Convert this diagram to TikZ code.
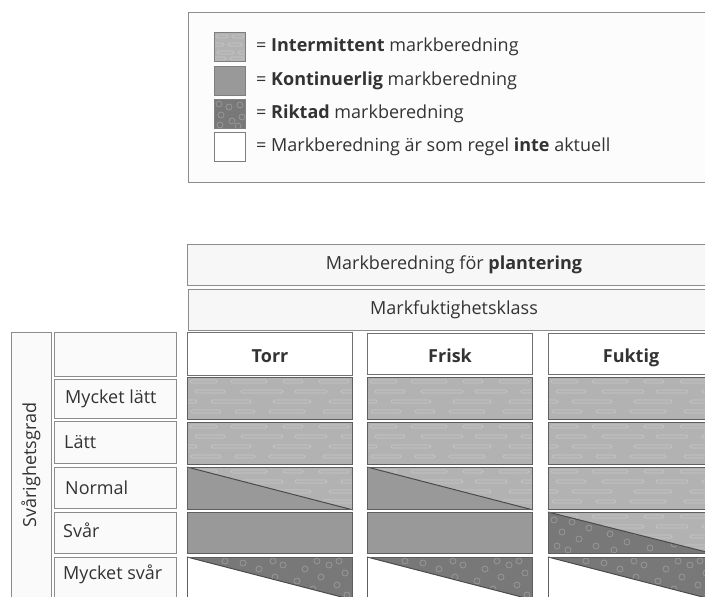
\documentclass[tikz,border=0pt]{standalone}
\usepackage{fontspec}
\setmainfont{Open Sans}
\pgfdeclarelayer{bg}
\pgfsetlayers{bg,main}
\definecolor{intc}{HTML}{B2B2B2}
\definecolor{intd}{HTML}{C6C6C6}
\definecolor{konc}{HTML}{999999}
\definecolor{rikc}{HTML}{787878}
\definecolor{rikd}{HTML}{9A9A9A}
\definecolor{celld}{HTML}{5E5E5E}
\definecolor{boxd}{HTML}{8C8C8C}
\definecolor{txt}{HTML}{333333}
\newcommand{\fs}{\fontsize{18}{20}\selectfont}
\tikzset{
  hdrbox/.style={draw=boxd, line width=1.1pt, fill=white!97!black, inner sep=0pt, anchor=north west, text=txt, font=\fs},
  colbox/.style={draw=boxd!80!black, line width=1.1pt, fill=white, inner sep=0pt, anchor=north west, text=txt, font=\bfseries\fs, text height=16pt, text depth=0pt},
  lblbox/.style={draw=boxd, line width=1.1pt, fill=white!98!black, inner sep=0pt, anchor=north west},
  lbltxt/.style={anchor=west, text=txt, font=\fs, inner sep=0pt},
  cellbox/.style={draw=celld, line width=0.9pt, inner sep=0pt, anchor=north west, minimum width=165pt},
  swatch/.style={draw=celld!80, line width=0.9pt, inner sep=0pt, minimum width=31pt, minimum height=29pt, anchor=north west},
  legtxt/.style={anchor=west, text=txt, font=\fs, inner sep=0pt},
  dashbar/.style={draw=intd, line width=0.7pt, rounded corners=1.4pt},
  ring/.style={draw=rikd, line width=0.7pt},
  diag/.style={draw=celld!80!black, line width=1pt}
}
% intermittent dashes, in a scope shifted to a cell's north west corner
\newcommand{\dashrows}{%
  \foreach \a/\b in {3/30,44/80,96/116,132/162,176/200} {\draw[dashbar] (\a,3) rectangle (\b,6);}
  \foreach \a/\b in {8/38,54/96,108/140,154/178} {\draw[dashbar] (\a,13) rectangle (\b,16);}
  \foreach \a/\b in {-5/10,24/64,86/124,142/172} {\draw[dashbar] (\a,23) rectangle (\b,26);}
  \foreach \a/\b in {4/34,48/68,82/118,136/170} {\draw[dashbar] (\a,33) rectangle (\b,36);}
}
\newcommand{\ringset}{%
  \foreach \p/\q in {6/8,14/20,9/34,24/10,31/27,41/16,48/34,56/6,62/22,72/12,79/30,88/20,96/8,102/36,110/24,118/12,126/32,134/20,142/8,150/28,158/16,160/38,20/38,66/38,86/4,130/4,38/4,152/4}
    {\draw[ring] (\p,\q) circle (3);}
}
\newcommand{\fillint}[1]{%
  \begin{scope}
    \clip (#1.north west) rectangle (#1.south east);
    \fill[intc] (#1.north west) rectangle (#1.south east);
    \begin{scope}[shift={(#1.north west)}]\dashrows\end{scope}
  \end{scope}}
\newcommand{\fillkon}[1]{\fill[konc] (#1.north west) rectangle (#1.south east);}
\newcommand{\fillnormal}[1]{%
  \fillint{#1}
  \fill[konc] (#1.north west) -- (#1.south west) -- (#1.south east) -- cycle;
  \draw[diag] (#1.north west) -- (#1.south east);}
\newcommand{\fillsvarfukt}[1]{%
  \fillint{#1}
  \begin{scope}
    \clip (#1.north west) -- (#1.south west) -- (#1.south east) -- cycle;
    \fill[rikc] (#1.north west) rectangle (#1.south east);
    \begin{scope}[shift={(#1.north west)}]\ringset\end{scope}
  \end{scope}
  \draw[diag] (#1.north west) -- (#1.south east);}
\newcommand{\fillmsvar}[1]{%
  \fill[white] (#1.north west) rectangle (#1.south east);
  \begin{scope}
    \clip (#1.north west) -- (#1.north east) -- (#1.south east) -- cycle;
    \fill[rikc] (#1.north west) rectangle (#1.south east);
    \begin{scope}[shift={(#1.north west)}]\ringset\end{scope}
  \end{scope}
  \draw[diag] (#1.north west) -- (#1.south east);}
\begin{document}
\begin{tikzpicture}[x=1pt,y=-1pt]
\useasboundingbox (0,0) rectangle (705,597);
\clip (0,0) rectangle (705,597);
\begin{pgfonlayer}{bg}
  \fill[white] (0,0) rectangle (705,597);
\end{pgfonlayer}

% legend
\node[draw=boxd, line width=1pt, inner sep=0pt, anchor=north west, minimum width=540pt, minimum height=170pt] (legend) at (188,12) {};
\node[swatch] (s1) at (214,32) {};
\node[swatch] (s2) at (214,66) {};
\node[swatch] (s3) at (214,99) {};
\node[swatch] (s4) at (214,132) {};
\begin{pgfonlayer}{bg}
  \fill[white!99!black] (legend.north west) rectangle (legend.south east);
  \fill[white] (s4.north west) rectangle (s4.south east);
  \begin{scope}
    \clip (s1.north west) rectangle (s1.south east);
    \fill[intc] (s1.north west) rectangle (s1.south east);
    \begin{scope}[shift={(s1.north west)}]
      \foreach \a/\b in {2/14,18/30} {\draw[dashbar] (\a,3) rectangle (\b,6);}
      \foreach \a/\b in {-3/10,14/28} {\draw[dashbar] (\a,11) rectangle (\b,14);}
      \foreach \a/\b in {3/20,24/36} {\draw[dashbar] (\a,19) rectangle (\b,22);}
      \foreach \a/\b in {-2/12,16/30} {\draw[dashbar] (\a,25) rectangle (\b,28);}
    \end{scope}
  \end{scope}
  \fill[konc] (s2.north west) rectangle (s2.south east);
  \begin{scope}
    \clip (s3.north west) rectangle (s3.south east);
    \fill[rikc] (s3.north west) rectangle (s3.south east);
    \begin{scope}[shift={(s3.north west)}]
      \foreach \p/\q in {5/5,15/8,26/6,7/16,18/22,28/18,6/26,24/27} {\draw[ring] (\p,\q) circle (3);}
    \end{scope}
  \end{scope}
\end{pgfonlayer}
\node[legtxt] (l1) at (256,47) {= \textbf{Intermittent} markberedning};
\node[legtxt] (l2) at (256,81) {= \textbf{Kontinuerlig} markberedning};
\node[legtxt] (l3) at (256,114) {= \textbf{Riktad} markberedning};
\node[legtxt] (l4) at (256,147) {= Markberedning är som regel \textbf{inte} aktuell};

% headers
\node[hdrbox, minimum width=534pt, minimum height=41pt] (h1) at (187,244) {};
\node[text=txt, font=\fs, inner sep=0pt] (h1t) at (454,265) {Markberedning för \textbf{plantering}};
\node[hdrbox, minimum width=533pt, minimum height=41pt] (h2) at (188,289) {};
\node[text=txt, font=\fs, inner sep=0pt] (h2t) at (454,310) {Markfuktighetsklass};

\node[colbox, minimum width=165pt, minimum height=43pt] (torr) at (187,332) {Torr};
\node[colbox, minimum width=165pt, minimum height=41pt] (frisk) at (367,333) {Frisk};
\node[colbox, minimum width=165pt, minimum height=41pt] (fuktig) at (548,333) {Fuktig};

% left labels
\node[lblbox, minimum width=40pt, minimum height=280pt] (sv) at (11,332) {};
\node[text=txt, font=\fs, rotate=90, inner sep=0pt] (svt) at (31,465) {Svårighetsgrad};
\node[lblbox, minimum width=122pt, minimum height=44pt] (r0) at (54,332) {};
\node[lblbox, minimum width=122pt, minimum height=39pt] (r1) at (54,379) {};
\node[lblbox, minimum width=122pt, minimum height=42pt] (r2) at (54,421) {};
\node[lblbox, minimum width=122pt, minimum height=41pt] (r3) at (54,467) {};
\node[lblbox, minimum width=122pt, minimum height=41pt] (r4) at (54,512) {};
\node[lblbox, minimum width=122pt, minimum height=45pt] (r5) at (54,557) {};
\node[lbltxt] (r1t) at (65,399) {Mycket lätt};
\node[lbltxt] (r2t) at (64,442) {Lätt};
\node[lbltxt] (r3t) at (65,488) {Normal};
\node[lbltxt] (r4t) at (63,530) {Svår};
\node[lbltxt] (r5t) at (63,574) {Mycket svår};

% data cells
\foreach \c/\x in {a/187,b/367,c/548} {
  \node[cellbox, minimum height=42pt] (\c1) at (\x,377) {};
  \node[cellbox, minimum height=42pt] (\c2) at (\x,422) {};
  \node[cellbox, minimum height=42pt] (\c3) at (\x,467) {};
  \node[cellbox, minimum height=41pt] (\c4) at (\x,512) {};
  \node[cellbox, minimum height=42pt] (\c5) at (\x,557) {};
}
\begin{pgfonlayer}{bg}
  \fillint{a1}\fillint{a2}\fillnormal{a3}\fillkon{a4}\fillmsvar{a5}
  \fillint{b1}\fillint{b2}\fillnormal{b3}\fillkon{b4}\fillmsvar{b5}
  \fillint{c1}\fillint{c2}\fillint{c3}\fillsvarfukt{c4}\fillmsvar{c5}
\end{pgfonlayer}
\end{tikzpicture}
\end{document}
